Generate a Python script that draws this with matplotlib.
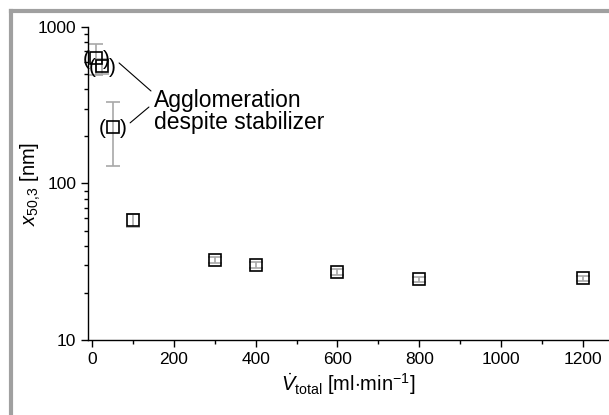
#!/usr/bin/env python3
"""Median particle size vs total flow rate (log scale)."""

import matplotlib
matplotlib.use("Agg")
import matplotlib.pyplot as plt
from matplotlib.lines import Line2D
from matplotlib.ticker import FixedLocator, NullFormatter, LogLocator, MultipleLocator


FLOW = [10, 25, 50, 100, 300, 400, 600, 800, 1200]
X50 = [637, 563, 230, 58.5, 32.4, 30.1, 27.1, 24.4, 24.8]
ERR_LOW = [140, 60, 100, 5.5, 1.5, 1.3, 1.2, 0.8, 1.0]
ERR_HIGH = [138, 60, 100, 5.0, 1.5, 1.3, 1.2, 0.8, 1.0]
AGGLOMERATED = [0, 1, 2]  # indices shown in parentheses

NOTE_TEXT = "Agglomeration\ndespite stabilizer"
NOTE_POS = (152, 290)
NOTE_LINES = [((66, 589), (144, 390)), ((93, 244), (139, 308))]

X_TICKS = [0, 200, 400, 600, 800, 1000, 1200]
Y_TICKS = [10, 100, 1000]


def main():
    plt.rcParams["font.family"] = ["Liberation Sans", "DejaVu Sans"]
    plt.rcParams["mathtext.fontset"] = "custom"
    plt.rcParams["mathtext.rm"] = "Liberation Sans"
    plt.rcParams["mathtext.it"] = "Liberation Sans:italic"

    fig = plt.figure(figsize=(6.09, 4.15), dpi=100)
    ax = fig.add_axes([0.1445, 0.1807, 0.8555, 0.7543])

    ax.errorbar(FLOW, X50, yerr=[ERR_LOW, ERR_HIGH], fmt="none",
                ecolor="#a8a8a8", elinewidth=1.2, capsize=5, capthick=1.2,
                zorder=2)
    ax.plot(FLOW, X50, linestyle="none", marker="s", markersize=8,
            markerfacecolor="none", markeredgecolor="black",
            markeredgewidth=1.2, zorder=3)

    for i in AGGLOMERATED:
        for dx, ch in [(-7.5, "("), (7.5, ")")]:
            ax.annotate(ch, xy=(FLOW[i], X50[i]), xytext=(dx, -1),
                        textcoords="offset points", ha="center",
                        va="center", fontsize=15, zorder=4)

    ax.text(NOTE_POS[0], NOTE_POS[1], NOTE_TEXT, ha="left", va="center",
            fontsize=16.5, linespacing=0.95)
    for start, end in NOTE_LINES:
        ax.annotate("", xy=start, xytext=end,
                    arrowprops=dict(arrowstyle="-", color="black", lw=0.8,
                                    shrinkA=0, shrinkB=0))

    ax.set_yscale("log")
    ax.set_xlim(-10, 1264)
    ax.set_ylim(10, 1000)
    ax.xaxis.set_major_locator(FixedLocator(X_TICKS))
    ax.xaxis.set_minor_locator(MultipleLocator(100))
    ax.yaxis.set_major_locator(FixedLocator(Y_TICKS))
    ax.set_yticklabels([str(v) for v in Y_TICKS])
    ax.yaxis.set_minor_locator(LogLocator(base=10, subs=range(2, 10)))
    ax.yaxis.set_minor_formatter(NullFormatter())

    ax.tick_params(which="both", direction="out", labelsize=12.5, width=1)
    ax.tick_params(which="major", length=5)
    ax.tick_params(which="minor", length=3)
    for side in ("top", "right"):
        ax.spines[side].set_visible(False)
    for side in ("left", "bottom"):
        ax.spines[side].set_linewidth(1)

    ax.set_xlabel(r"$\dot{V}_{\mathrm{total}}$ [ml$\cdot$min$^{-1}$]",
                  fontsize=14.5, labelpad=3)
    ax.set_ylabel(r"$x_{\mathrm{50{,}3}}$ [nm]", fontsize=14.5)
    ax.yaxis.set_label_coords(-0.086, 0.5)

    # grey frame around the figure (top and left edges)
    frame = dict(color="#a0a0a0", lw=3, transform=fig.transFigure)
    fig.add_artist(Line2D([0.0174, 1.0], [0.9735, 0.9735], **frame))
    fig.add_artist(Line2D([0.0174, 0.0174], [0.0, 0.9735], **frame))

    fig.savefig("out.png", dpi=100)


if __name__ == "__main__":
    main()
